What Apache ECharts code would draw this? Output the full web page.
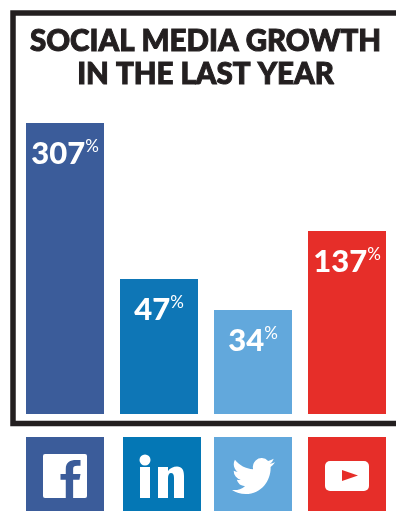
<!DOCTYPE html>
<html><head><meta charset="utf-8">
<style>html,body{margin:0;padding:0;background:#fff}#c{width:396px;height:511px}</style>
<script src="https://cdn.jsdelivr.net/npm/echarts@6/dist/echarts.min.js"></script></head>
<body><div id="c"></div>
<script>
const categories = ['Facebook','LinkedIn','Twitter','YouTube'];
// Growth figures printed on the bars
const growthLabels = [307, 47, 34, 137];
// Bar heights as drawn in the picture (the original is not to scale with its labels)
const drawnHeights = [291, 135, 104, 183];
const barColors = ['#3b5c9a','#0e76b6','#62a8dc','#e62e29'];
const iconColors = ['#3b5c9a','#0477b5','#62a8dc','#e62e29'];
const titleText = 'SOCIAL MEDIA GROWTH\nIN THE LAST YEAR';
const INK = '#231f20';

const chart = echarts.init(document.getElementById('c'), null, {renderer:'canvas'});
const iconY = 437, iconS = 78, iconX = [26,123,214,308];
const white = '#fff';
const twitter = 'M23.953 4.57 a10 10 0 0 1 -2.825 .775 a4.958 4.958 0 0 0 2.163 -2.723 c-.951 .555 -2.005 .959 -3.127 1.184 a4.92 4.92 0 0 0 -8.384 4.482 C7.69 8.095 4.067 6.13 1.64 3.162 a4.822 4.822 0 0 0 -.666 2.475 c0 1.71 .87 3.213 2.188 4.096 a4.904 4.904 0 0 1 -2.228 -.616 v.06 a4.923 4.923 0 0 0 3.946 4.827 a4.996 4.996 0 0 1 -2.212 .085 a4.936 4.936 0 0 0 4.604 3.417 a9.867 9.867 0 0 1 -6.102 2.105 c-.39 0 -.779 -.023 -1.17 -.067 a13.995 13.995 0 0 0 7.557 2.209 c9.053 0 13.998 -7.496 13.998 -13.985 c0 -.21 0 -.42 -.015 -.63 A9.935 9.935 0 0 0 24 4.59 z';
const fbF = 'M66 498V479H61V473H66V468C66 461 70 458.500 76 458.500H80V464.500H77C74 464.500 73 465.500 73 468V473H80L79 479H73V498Z';
const liN = 'M158 467H168V471C170 468 173.500 466.500 177 466.500C182 466.500 184 470 184 476V498H174V478C174 474.500 173 473 171 473C169 473 168 475 168 478V498H158Z';
const glyph = [
  [ {type:'rect',shape:{x:43,y:454,width:44,height:44,r:2},style:{fill:white}},
    {type:'path',shape:{pathData:fbF,layout:'cover',x:60.5,y:460,width:20,height:38},style:{fill:iconColors[0]}} ],
  [ {type:'circle',shape:{cx:145,cy:460,r:5.5},style:{fill:white}},
    {type:'rect',shape:{x:140,y:467,width:10,height:31},style:{fill:white}},
    {type:'path',shape:{pathData:liN,layout:'cover',x:158,y:466.5,width:26,height:31.5},style:{fill:white}} ],
  [ {type:'path',shape:{pathData:twitter,layout:'cover',x:232,y:458,width:43,height:36},style:{fill:white}} ],
  [ {type:'rect',shape:{x:325,y:461,width:44,height:30,r:5},style:{fill:white}},
    {type:'polygon',shape:{points:[[342,470],[358,475.5],[342,481]]},style:{fill:iconColors[3]}} ]
];
chart.setOption({
  animation:false,
  backgroundColor:'#fff',
  title:{text:titleText,left:205.5,textAlign:'center',top:25,padding:0,
    textStyle:{fontFamily:'Lato',fontWeight:900,fontSize:29.5,lineHeight:33,color:INK,textBorderColor:INK,textBorderWidth:1}},
  grid:{left:18,width:376,top:123,height:291,containLabel:false},
  xAxis:{type:'category',data:categories,axisLine:{show:false},axisTick:{show:false},axisLabel:{show:false}},
  yAxis:{type:'value',min:0,max:291,show:false,splitLine:{show:false}},
  series:[{
    type:'bar',barWidth:78,
    data:drawnHeights.map((v,i)=>({value:v,itemStyle:{color:barColors[i]}})),
    label:{show:true,position:'insideTop',distance:13,
      formatter:p=>`{n|${growthLabels[p.dataIndex]}}{p|%}`,
      rich:{
        n:{fontFamily:'Lato',fontWeight:900,fontSize:31,color:'#fff',lineHeight:36},
        p:{fontFamily:'Lato',fontWeight:400,fontSize:17,color:'#fff',lineHeight:36,padding:[0,0,14,0]}
      }}
  },{
    type:'custom',coordinateSystem:'none',silent:true,
    data:categories.map((c,i)=>i),
    renderItem:(params)=>{
      const i=params.dataIndex;
      return {type:'group',children:[
        {type:'rect',shape:{x:iconX[i],y:iconY,width:iconS,height:iconS},style:{fill:iconColors[i]}},
        ...glyph[i]
      ]};
    }
  }],
  graphic:[
    {type:'polyline',shape:{points:[[396,13],[13,13],[13,423.5],[396,423.5]]},
      style:{stroke:INK,lineWidth:5.5,fill:null,lineJoin:'miter'},silent:true}
  ]
});
</script></body></html>
